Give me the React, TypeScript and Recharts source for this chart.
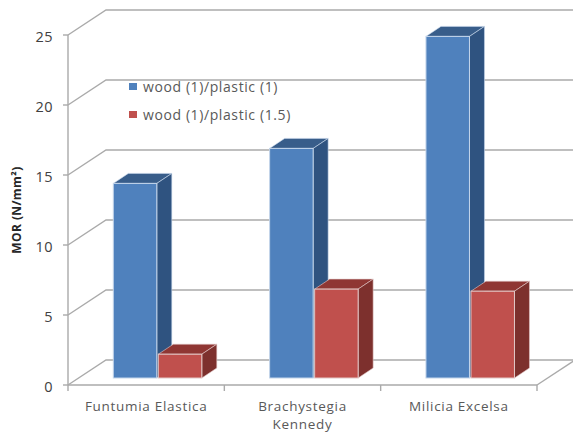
import React from "react";
import { BarChart, Bar, XAxis, YAxis, CartesianGrid, Legend, Label } from "recharts";

const categories = ["Funtumia Elastica", "Brachystegia Kennedy", "Milicia Excelsa"];
const categoryLines = [["Funtumia Elastica"], ["Brachystegia", "Kennedy"], ["Milicia Excelsa"]];
const plastic1 = [13.9, 16.4, 24.4];
const plastic15 = [1.7, 6.35, 6.2];
const yTicks = [0, 5, 10, 15, 20, 25];

const SERIES_1 = "wood (1)/plastic (1)";
const SERIES_15 = "wood (1)/plastic (1.5)";

const rows = categories.map((name, i) => ({
  name,
  [SERIES_1]: plastic1[i],
  [SERIES_15]: plastic15[i],
}));

const FONT = "'Open Sans', sans-serif";
const GRID = "#aaaaaa";

// Depth of the chart box and of each column in the oblique projection.
const WALL_DX = 38;
const WALL_DY = -25;
const BAR_SHIFT_X = 11.3;
const BAR_SHIFT_Y = -7;
const BAR_DX = 15;
const BAR_DY = -10;

const Column3D = (colors: { top: string; side: string; edge: string }) => (props: any) => {
  const { x, y, width, height, fill } = props;
  const l = x + BAR_SHIFT_X;
  const r = l + width;
  const t = y + BAR_SHIFT_Y;
  const b = t + height;
  return (
    <g>
      <polygon
        points={`${l},${t} ${l + BAR_DX},${t + BAR_DY} ${r + BAR_DX},${t + BAR_DY} ${r},${t}`}
        fill={colors.top}
        stroke={colors.edge}
        strokeWidth={0.6}
      />
      <polygon
        points={`${r},${t} ${r + BAR_DX},${t + BAR_DY} ${r + BAR_DX},${b + BAR_DY} ${r},${b}`}
        fill={colors.side}
        stroke={colors.edge}
        strokeWidth={0.6}
      />
      <rect x={l} y={t} width={width} height={height} fill={fill} stroke={colors.edge} strokeWidth={1} />
    </g>
  );
};

// Each gridline runs along the left wall and then across the back wall.
const WallLine = (props: any) => {
  const { x1, x2, y1 } = props;
  return (
    <path
      d={`M${x1},${y1} L${x1 + WALL_DX},${y1 + WALL_DY} L${x2 + WALL_DX},${y1 + WALL_DY}`}
      fill="none"
      stroke={GRID}
      strokeWidth={1.4}
    />
  );
};

const CategoryTick = (props: any) => {
  const { x, y, payload, index } = props;
  const half = payload.offset ?? 78.2;
  const lines = categoryLines[index] ?? [payload.value];
  return (
    <g>
      <line x1={x - half} x2={x - half} y1={y - 8} y2={y - 2} stroke={GRID} strokeWidth={1.4} />
      {index === categories.length - 1 && (
        <>
          <line x1={x + half} x2={x + half} y1={y - 8} y2={y - 2} stroke={GRID} strokeWidth={1.4} />
          <path
            d={`M${x + half},${y - 8} L${x + half + WALL_DX},${y - 8 + WALL_DY}`}
            fill="none"
            stroke={GRID}
            strokeWidth={1.4}
          />
        </>
      )}
      <text
        x={x}
        y={y + 18}
        textAnchor="middle"
        fontFamily={FONT}
        fontSize={13.5}
        letterSpacing={0.7}
        fill="#595959"
      >
        {lines.map((line: string, i: number) => (
          <tspan key={line} x={x} dy={i === 0 ? 0 : 18}>
            {line}
          </tspan>
        ))}
      </text>
    </g>
  );
};

const ValueTick = (props: any) => {
  const { x, y, payload } = props;
  return (
    <text x={x} y={y + 6.5} textAnchor="end" fontFamily={FONT} fontSize={14.5} letterSpacing={0.4} fill="#404040">
      {payload.value}
    </text>
  );
};

const KeyList = ({ payload }: any) => (
  <div style={{ fontFamily: FONT, fontSize: 14, letterSpacing: 0.6, color: "#595959" }}>
    {(payload ?? []).map((item: any) => (
      <div key={item.value} style={{ display: "flex", alignItems: "center", height: 28, whiteSpace: "nowrap" }}>
        <span style={{ width: 8, height: 7, background: item.color, marginRight: 6 }} />
        {item.value}
      </div>
    ))}
  </div>
);

export default function App() {
  return (
    <div style={{ position: "absolute", left: 0, top: 0, width: 573, height: 432, background: "#fff" }}>
      <BarChart
        width={573}
        height={432}
        data={rows}
        margin={{ top: 35, right: 36, bottom: 0, left: 0 }}
        barSize={43.5}
        barGap={1.5}
      >
        <CartesianGrid vertical={false} horizontal={WallLine as any} />
        <XAxis
          dataKey="name"
          height={47}
          interval={0}
          stroke={GRID}
          strokeWidth={1.4}
          tickLine={false}
          tick={CategoryTick as any}
        />
        <YAxis
          width={68}
          domain={[0, 25]}
          ticks={yTicks}
          interval={0}
          stroke={GRID}
          strokeWidth={1.4}
          tickSize={5}
          tickMargin={10}
          tick={ValueTick as any}
        >
          <Label
            value="MOR (N/mm²)"
            angle={-90}
            position="insideLeft"
            offset={17}
            style={{ fontFamily: FONT, fontSize: 12, fontWeight: 700, letterSpacing: 0.4, fill: "#262626", textAnchor: "middle" }}
          />
        </YAxis>
        <Legend
          content={KeyList as any}
          layout="vertical"
          align="center"
          verticalAlign="middle"
          wrapperStyle={{ left: 129, top: 72, width: 200 }}
        />
        <Bar
          dataKey={SERIES_1}
          fill="#4F81BD"
          isAnimationActive={false}
          shape={Column3D({ top: "#385D8A", side: "#2F5380", edge: "#c4d5ea" }) as any}
        />
        <Bar
          dataKey={SERIES_15}
          fill="#C0504D"
          isAnimationActive={false}
          shape={Column3D({ top: "#8F3633", side: "#7D302D", edge: "#e3c8c7" }) as any}
        />
      </BarChart>
    </div>
  );
}
